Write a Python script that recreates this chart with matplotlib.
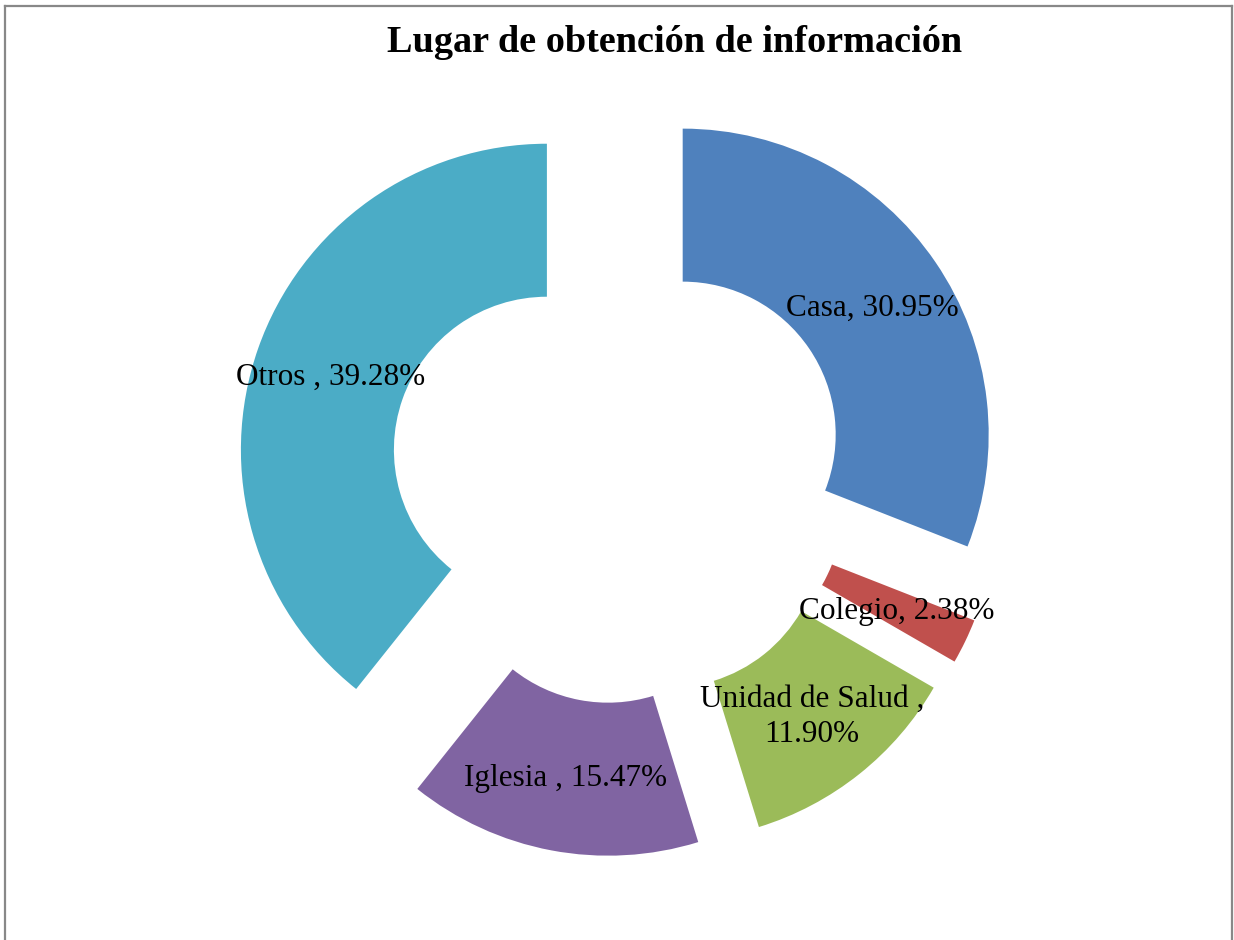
import matplotlib
matplotlib.use("Agg")
import matplotlib.pyplot as plt
import numpy as np

categories = ["Casa", "Colegio", "Unidad de Salud", "Iglesia", "Otros "]
values = [30.95, 2.38, 11.90, 15.47, 39.28]
label_texts = ["Casa, 30.95%", "Colegio, 2.38%", "Unidad de Salud ,\n11.90%",
               "Iglesia , 15.47%", "Otros , 39.28%"]
colors = ["#4F81BD", "#C0504D", "#9BBB59", "#8064A2", "#4BACC6"]
title = "Lugar de obtención de información"

W, H = 1234, 940
fig = plt.figure(figsize=(W / 100, H / 100), dpi=100)
ax = fig.add_axes([0, 0, 1, 1])
R = 306.0
cx, cy = 622.0, 476.0

explode = [0.24, 0.245, 0.245, 0.245, 0.26]
wedges, _ = ax.pie(values, colors=colors, startangle=90, counterclock=False,
                   explode=explode, radius=1.0,
                   wedgeprops=dict(width=0.5, linewidth=0))
ax.set_xlim(-cx / R, (W - cx) / R)
ax.set_ylim(-(H - cy) / R, cy / R)
ax.set_aspect("auto")
ax.axis("off")

for w, t in zip(wedges, label_texts):
    th = np.deg2rad((w.theta1 + w.theta2) / 2)
    x0, y0 = w.center
    ax.text(x0 + 0.75 * np.cos(th), y0 + 0.75 * np.sin(th) - 0.01, t,
            ha="center", va="center", fontsize=22.5, family="Liberation Serif",
            linespacing=1.27)

fig.text(675 / W, 1 - 42 / H, title, ha="center", va="center", fontsize=27.5,
         fontweight="bold", family="Liberation Serif")

# chart frame (top, left, right edges)
fig.add_artist(plt.Line2D([5 / W, 5 / W], [0, 1 - 6 / H], color="#888888", lw=1.6,
                          transform=fig.transFigure))
fig.add_artist(plt.Line2D([1232 / W, 1232 / W], [0, 1 - 6 / H], color="#888888", lw=1.6,
                          transform=fig.transFigure))
fig.add_artist(plt.Line2D([5 / W, 1232 / W], [1 - 6 / H, 1 - 6 / H], color="#888888", lw=1.6,
                          transform=fig.transFigure))

fig.savefig("out.png", dpi=100)
